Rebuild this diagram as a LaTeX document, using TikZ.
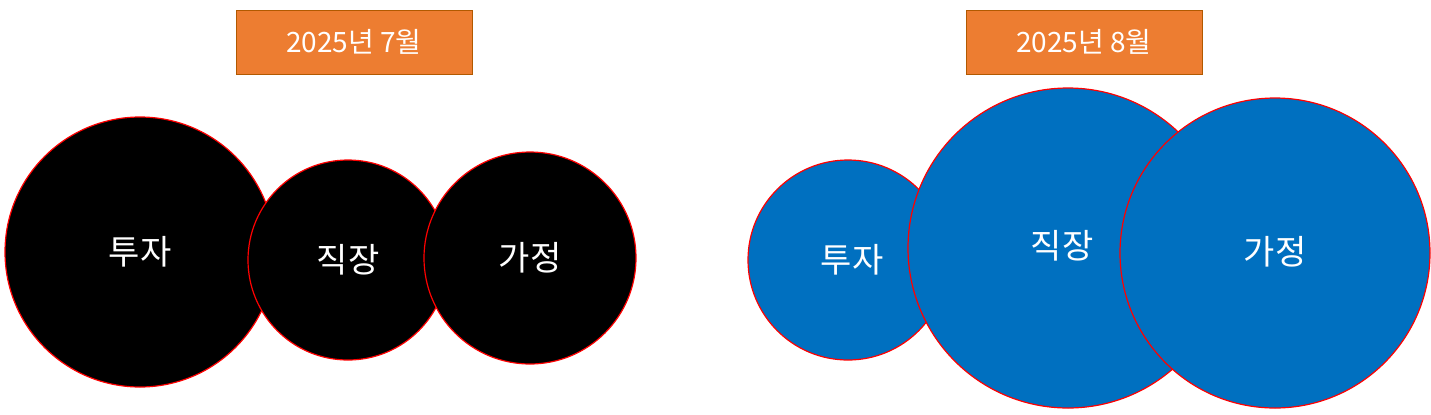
\documentclass[tikz,border=0pt]{standalone}
\usepackage{fontspec}
\setmainfont{Noto Sans CJK KR}
\begin{document}
\begin{tikzpicture}[x=0.5pt,y=-0.5pt,
  circ/.style={draw=red,line width=0.6pt},
  lbl/.style={text=white,font=\fontsize{17}{20}\selectfont},
  hdr/.style={draw=orange!70!black,fill={rgb,255:red,237;green,125;blue,49},text=white,font=\fontsize{14}{17}\selectfont,minimum width=118pt,minimum height=32pt,inner sep=0pt}]
\useasboundingbox (0,0) rectangle (1431,414);
\definecolor{bl}{RGB}{0,112,192}
\node[hdr] (h1) at (354,42) {2025년 7월};
\node[hdr] (h2) at (1084,42) {2025년 8월};
\fill[black,circ] (140,252) circle[radius=67.5pt];
\fill[black,circ] (348,260) circle[radius=50pt];
\fill[black,circ] (530,258) circle[radius=53pt];
\node[lbl] (a1) at (140,252) {투자};
\node[lbl] (a2) at (348,260) {직장};
\node[lbl] (a3) at (530,258) {가정};
\fill[bl,circ] (848,260) circle[radius=50pt];
\fill[bl,circ] (1068,248) circle[radius=80pt];
\fill[bl,circ] (1275,253) circle[radius=77.5pt];
\node[lbl] (b1) at (852,260) {투자};
\node[lbl] (b2) at (1062,246) {직장};
\node[lbl] (b3) at (1275,252) {가정};
\end{tikzpicture}
\end{document}
